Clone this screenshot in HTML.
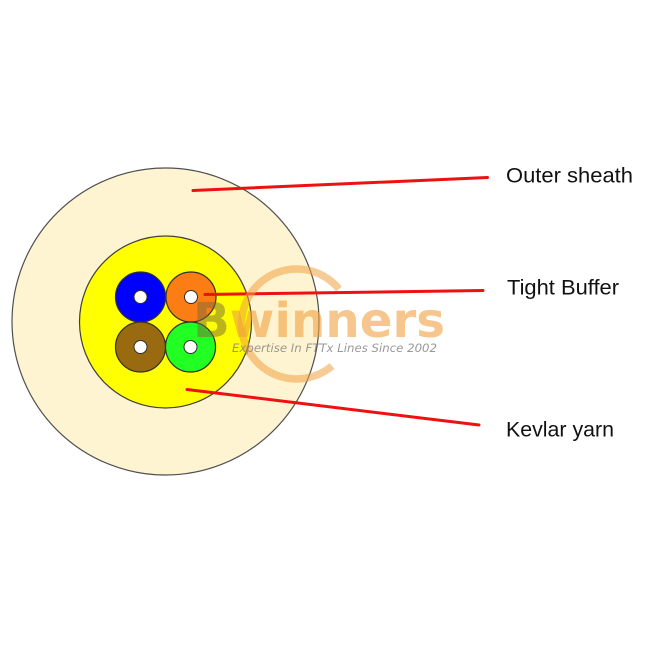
<!DOCTYPE html>
<html>
<head>
<meta charset="utf-8">
<style>
html,body{margin:0;padding:0;background:#fff;}
svg{display:block;}
</style>
</head>
<body>
<svg width="650" height="650" viewBox="0 0 650 650" xmlns="http://www.w3.org/2000/svg">
  <rect width="650" height="650" fill="#ffffff"/>
  <!-- outer sheath -->
  <circle cx="165.5" cy="321.5" r="153.5" fill="#fff4d2" stroke="#505050" stroke-width="1.2"/>
  <!-- kevlar -->
  <circle cx="165.5" cy="322" r="86" fill="#ffff00" stroke="#404040" stroke-width="1.2"/>
  <!-- tight buffers -->
  <circle cx="140.5" cy="297" r="25" fill="#0000ff" stroke="#303030" stroke-width="1.2"/>
  <circle cx="191" cy="297" r="25" fill="#fb7d14" stroke="#303030" stroke-width="1.2"/>
  <circle cx="140.5" cy="347" r="25" fill="#9a6a10" stroke="#303030" stroke-width="1.2"/>
  <circle cx="190.5" cy="347" r="25" fill="#22ff22" stroke="#303030" stroke-width="1.2"/>
  <circle cx="140.5" cy="297" r="6.5" fill="#ffffff" stroke="#303030" stroke-width="1"/>
  <circle cx="191" cy="297" r="6.5" fill="#ffffff" stroke="#303030" stroke-width="1"/>
  <circle cx="140.5" cy="347" r="6.5" fill="#ffffff" stroke="#303030" stroke-width="1"/>
  <circle cx="190.5" cy="347" r="6.5" fill="#ffffff" stroke="#303030" stroke-width="1"/>

  <!-- leader lines -->
  <g stroke="#ee1111" stroke-width="3" stroke-linecap="round">
    <line x1="193" y1="190.5" x2="487.5" y2="177.5"/>
    <line x1="205" y1="294.5" x2="483" y2="290.5"/>
    <line x1="187" y1="389.5" x2="479" y2="425"/>
  </g>

  <!-- labels -->
  <g font-family="'Liberation Sans', Arial, sans-serif" font-size="21" fill="#111111">
    <text x="506" y="182.5" textLength="127" lengthAdjust="spacingAndGlyphs">Outer sheath</text>
    <text x="507" y="294.5" textLength="112" lengthAdjust="spacingAndGlyphs">Tight Buffer</text>
    <text x="506" y="436.5" textLength="108" lengthAdjust="spacingAndGlyphs">Kevlar yarn</text>
  </g>

  <!-- watermark -->
  <path d="M 339 289 A 55 55 0 1 0 332 366" fill="none" stroke="#f0a040" stroke-opacity="0.55" stroke-width="7.5"/>
  <text x="193" y="337" font-family="'DejaVu Sans', 'Liberation Sans', sans-serif" font-weight="bold" font-size="48" textLength="252" lengthAdjust="spacingAndGlyphs"><tspan fill="#7a6a3a" fill-opacity="0.5">B</tspan><tspan fill="#f0a040" fill-opacity="0.6">winners</tspan></text>
  <text x="232" y="352" font-family="'DejaVu Sans', 'Liberation Sans', sans-serif" font-style="italic" font-size="11.5" fill="#808080" fill-opacity="0.8" textLength="205" lengthAdjust="spacingAndGlyphs">Expertise In FTTx Lines Since 2002</text>
</svg>
</body>
</html>
